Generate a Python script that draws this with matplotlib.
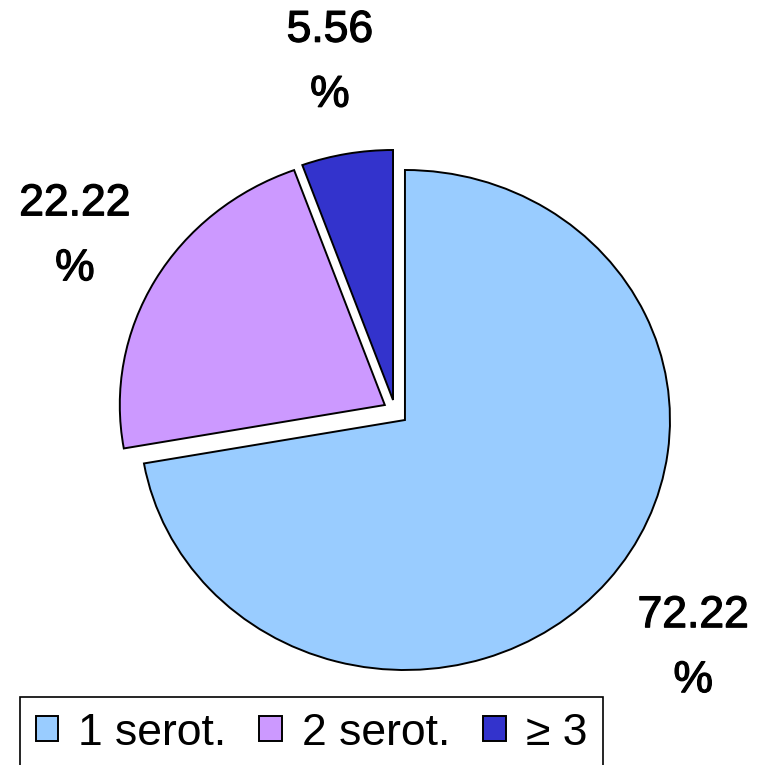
import numpy as np
import matplotlib
matplotlib.use("Agg")
import matplotlib.pyplot as plt
import matplotlib.patheffects as pe

plt.rcParams['font.family'] = ['Liberation Sans', 'DejaVu Sans']

categories = ["1 serot.", "2 serot.", "\u2265 3"]
values = [72.22, 22.22, 5.56]
pct_labels = ["72.22\n%", "22.22\n%", "5.56\n%"]
colors = ["#99CCFF", "#CC99FF", "#3333CC"]
explode = [0.0, 0.1, 0.1]

fig = plt.figure(figsize=(7.63, 7.65), dpi=100)
ax = fig.add_axes([0, 0, 1, 1])

wedges, _ = ax.pie(values, colors=colors, explode=explode, startangle=90,
                   counterclock=False,
                   wedgeprops=dict(edgecolor="black", linewidth=1.4))

# the small slices are pulled out a bit more sideways than pie() does
wedges[1].set_center((-0.076, 0.06))
wedges[2].set_center((-0.045, 0.08))

label_dist = [1.42, 1.35, 1.37]
for w, txt, d in zip(wedges, pct_labels, label_dist):
    mid = np.deg2rad((w.theta1 + w.theta2) / 2)
    cx, cy = w.center
    ax.text(cx + d * np.cos(mid), cy + d * np.sin(mid), txt,
            ha="center", va="center", fontsize=32, linespacing=1.75,
            path_effects=[pe.withStroke(linewidth=0.9, foreground="black")])

ax.set_aspect("auto")
ax.set_xlim(-1.528, 1.351)
ax.set_ylim(-1.38, 1.68)
ax.axis("off")

leg = fig.legend(wedges, categories, loc="upper left",
                 bbox_to_anchor=(20 / 763, 1 - 697 / 765), ncol=3,
                 fontsize=32, frameon=True, fancybox=False, framealpha=1,
                 handlelength=0.5, handleheight=0.5, handletextpad=0.45,
                 columnspacing=0.75, borderpad=0.35, borderaxespad=0)
leg.get_frame().set_edgecolor("black")
leg.get_frame().set_linewidth(1.2)

fig.savefig("out.png", dpi=100)
